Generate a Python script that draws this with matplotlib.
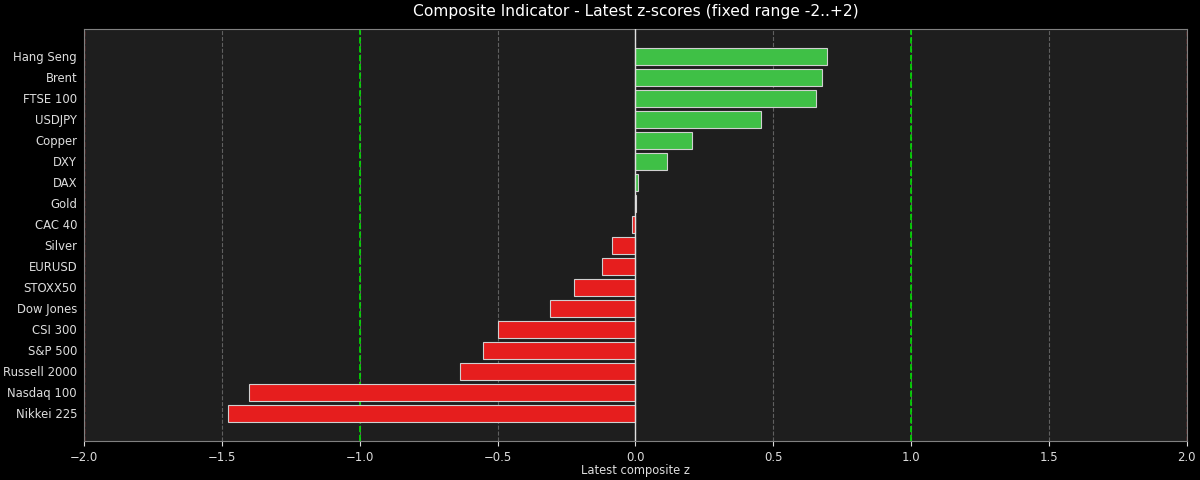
import numpy as np
import matplotlib.pyplot as plt

# latest composite z-scores
names = ["Hang Seng", "Brent", "FTSE 100", "USDJPY", "Copper", "DXY", "DAX", "Gold",
         "CAC 40", "Silver", "EURUSD", "STOXX50", "Dow Jones", "CSI 300", "S&P 500",
         "Russell 2000", "Nasdaq 100", "Nikkei 225"]
zvals = [0.695, 0.676, 0.654, 0.457, 0.207, 0.116, 0.009, 0.002,
         -0.011, -0.086, -0.122, -0.221, -0.308, -0.497, -0.551,
         -0.638, -1.400, -1.478]

plt.rcParams['font.family'] = ['DejaVu Sans']

fig, ax = plt.subplots(figsize=(12, 4.8), dpi=100)
fig.patch.set_facecolor("black")
ax.set_facecolor("#1e1e1e")

y = np.arange(len(names))
colors = ["#3fc046" if v >= 0 else "#e61e1e" for v in zvals]
ax.barh(y, zvals, height=0.85, color=colors, edgecolor="#d0d0d0", linewidth=0.8, zorder=3)
ax.set_yticks(y)
ax.set_yticklabels(names)
ax.invert_yaxis()

ax.set_xlim(-2, 2)
ax.set_xticks(np.arange(-2, 2.01, 0.5))
ax.grid(axis="x", color="#606060", linestyle="--", linewidth=0.8, zorder=0)
ax.axvline(0, color="#e0e0e0", linewidth=1.0, zorder=4)
for xv in (-1, 1):
    ax.axvline(xv, color="#00e000", linestyle="--", linewidth=1.2, zorder=2)
for xv in (-2, 2):
    ax.axvline(xv, color="#c03030", linestyle="--", linewidth=1.0, zorder=2)

ax.set_title("Composite Indicator - Latest z-scores (fixed range -2..+2)", color="white",
             fontsize=11.2, pad=9.5)
ax.set_xlabel("Latest composite z", color="#dddddd", fontsize=8.3, labelpad=0)
ax.tick_params(colors="#dddddd", labelsize=8.4)
ax.tick_params(axis="y", length=0, pad=5)
for s in ax.spines.values():
    s.set_color("#808080")

plt.subplots_adjust(left=0.07, right=0.989, top=0.94, bottom=0.081)
plt.savefig("out.png", facecolor=fig.get_facecolor())
